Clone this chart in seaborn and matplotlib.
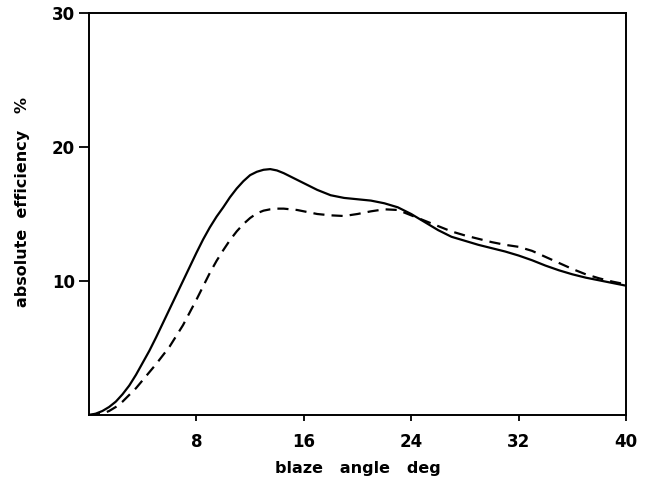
import matplotlib
matplotlib.use("Agg")
import matplotlib.pyplot as plt
import seaborn as sns
import pandas as pd

blaze_angle = [0, 0.5, 1, 1.5, 2, 2.5, 3, 3.5, 4, 4.5, 5, 5.5, 6, 6.5, 7, 7.5, 8, 8.5, 9, 9.5,
               10, 10.5, 11, 11.5, 12, 12.5, 13, 13.5, 14, 14.5, 15, 15.5, 16,
               17, 18, 19, 20, 21, 22, 23, 24, 25, 26, 27, 28, 29, 30, 31, 32, 33, 34, 35,
               36, 37, 38, 39, 40]
eff_solid = [0.0, 0.1, 0.3, 0.6, 1.0, 1.55, 2.2, 3.0, 3.9, 4.8, 5.8, 6.85, 7.9, 8.95, 10.0,
             11.05, 12.1, 13.1, 14.0, 14.8, 15.5, 16.25, 16.9, 17.45, 17.9, 18.15, 18.3, 18.35,
             18.25, 18.05, 17.8, 17.55, 17.3,
             16.8, 16.4, 16.2, 16.1, 16.0, 15.8, 15.5, 15.0, 14.4, 13.8, 13.3, 13.0,
             12.7, 12.45, 12.2, 11.9, 11.55, 11.15, 10.8, 10.5, 10.25, 10.05, 9.85, 9.65]
eff_dashed = [0.0, 0.03, 0.1, 0.3, 0.6, 1.0, 1.5, 2.0, 2.6, 3.2, 3.8, 4.45, 5.1, 5.9, 6.7,
              7.65, 8.6, 9.6, 10.6, 11.5, 12.3, 13.05, 13.7, 14.25, 14.7, 15.05, 15.25, 15.35,
              15.4, 15.4, 15.35, 15.3, 15.2,
              15.0, 14.9, 14.85, 15.0, 15.2, 15.35, 15.3, 14.9, 14.5, 14.1, 13.7, 13.4,
              13.15, 12.9, 12.7, 12.55, 12.25, 11.8, 11.35, 10.9, 10.5, 10.2, 9.95, 9.75]
x_ticks = [8, 16, 24, 32, 40]
y_ticks = [10, 20, 30]

sns.set_style("ticks")
plt.rcParams['font.family'] = ['DejaVu Sans']
plt.rcParams['text.color'] = 'black'
plt.rcParams['axes.labelcolor'] = 'black'
plt.rcParams['xtick.color'] = 'black'
plt.rcParams['ytick.color'] = 'black'

fig = plt.figure(figsize=(6.55, 4.88), dpi=100)
ax = fig.add_axes([89/655, 1 - 415/488, (626-89)/655, (415-13)/488])

df_s = pd.DataFrame({"x": blaze_angle, "y": eff_solid})
df_d = pd.DataFrame({"x": blaze_angle, "y": eff_dashed})
sns.lineplot(data=df_s, x="x", y="y", ax=ax, color="black", linewidth=1.6,
             estimator=None, sort=False)
sns.lineplot(data=df_d, x="x", y="y", ax=ax, color="black", linewidth=1.6,
             estimator=None, sort=False, dashes=False)
ax.lines[-1].set_dashes([5, 3.2])
for ln in ax.lines:
    ln.set_solid_joinstyle("round")
    ln.set_dash_joinstyle("round")

ax.set_xlim(0, 40)
ax.set_ylim(0, 30)
ax.set_xticks(x_ticks)
ax.set_yticks(y_ticks)
ax.set_xticklabels([str(v) for v in x_ticks], fontsize=12, fontweight="black", color="black")
ax.set_yticklabels([str(v) for v in y_ticks], fontsize=12, fontweight="black", color="black")
ax.tick_params(axis="x", direction="out", length=4, width=1.3, pad=9, colors="black")
ax.tick_params(axis="y", direction="out", length=7, width=1.3, pad=3, colors="black")
for s in ax.spines.values():
    s.set_linewidth(1.4)
    s.set_color("black")

ax.set_xlabel("blaze   angle   deg", fontsize=11.5, fontweight="black", labelpad=7,
              color="black")
ax.set_ylabel("absolute  efficiency   %", fontsize=11.5, fontweight="black",
              color="black")
ax.yaxis.set_label_coords(-0.11, 0.53)

fig.savefig("out.png", dpi=100)
